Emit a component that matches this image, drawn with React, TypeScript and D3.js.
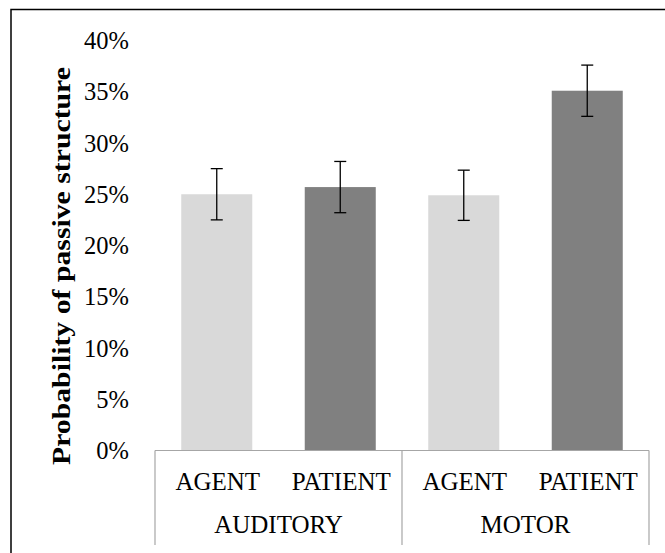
import React from "react";
import * as d3 from "d3";

const groups = ["AUDITORY", "MOTOR"];
const conditions = ["AGENT", "PATIENT"];
const values = [25.0, 25.7, 24.9, 35.1];
const errors = [2.5, 2.5, 2.45, 2.5];
const yTicks = [0, 5, 10, 15, 20, 25, 30, 35, 40];
const colors = ["#d9d9d9", "#808080"];

export default function App() {
  const W = 665, H = 553;
  const left = 155, right = 649, top = 40.5, base = 450.5;
  const cats = d3.range(values.length).map(String);
  const x = d3.scaleBand().domain(cats).range([left, right]).paddingInner(0.425).paddingOuter(0.2125);
  const y = d3.scaleLinear().domain([0, 40]).range([base, top]);
  const bw = x.bandwidth();
  const step = (right - left) / values.length;
  const font = { fontFamily: '"Liberation Serif", "Times New Roman", serif' };
  return (
    <svg width={W} height={H} style={{ position: "absolute", left: 0, top: 0 }}>
      <rect x={0} y={0} width={W} height={H} fill="#fff" />
      <rect x={11} y={9.5} width={W + 10} height={H + 10} fill="none" stroke="#000" strokeWidth={1.5} />
      {yTicks.map((t) => (
        <text key={t} x={129} y={y(t)} dy="0.35em" textAnchor="end" style={font} fontSize={24.5} fill="#000">
          {t}%
        </text>
      ))}
      <text
        transform={`translate(70,266) rotate(-90)`}
        textAnchor="middle"
        style={font}
        fontWeight="bold"
        fontSize={25}
        textLength={398}
        lengthAdjust="spacingAndGlyphs"
        fill="#000"
      >
        Probability of passive structure
      </text>
      {values.map((v, i) => (
        <rect key={i} x={x(String(i))!} y={y(v)} width={bw} height={y(0) - y(v)} fill={colors[i % 2]} />
      ))}
      {values.map((v, i) => {
        const cx = x(String(i))! + bw / 2;
        return (
          <g key={i} stroke="#000" strokeWidth={1.3}>
            <line x1={cx} x2={cx} y1={y(v + errors[i])} y2={y(v - errors[i])} />
            <line x1={cx - 6} x2={cx + 6} y1={y(v + errors[i])} y2={y(v + errors[i])} />
            <line x1={cx - 6} x2={cx + 6} y1={y(v - errors[i])} y2={y(v - errors[i])} />
          </g>
        );
      })}
      <g stroke="#a6a6a6" strokeWidth={1.2}>
        <line x1={left} x2={right} y1={base} y2={base} />
        {[0, 1, 2].map((k) => (
          <line key={k} x1={left + k * (right - left) / 2} x2={left + k * (right - left) / 2} y1={base} y2={545} />
        ))}
      </g>
      {values.map((v, i) => (
        <text key={i} x={x(String(i))! + bw / 2 + 1} y={490} textAnchor="middle" style={font} fontSize={25} fill="#000">
          {conditions[i % 2]}
        </text>
      ))}
      {groups.map((g, k) => (
        <text key={g} x={left + step * (2 * k + 1)} y={533} textAnchor="middle" style={font} fontSize={25} fill="#000">
          {g}
        </text>
      ))}
    </svg>
  );
}
